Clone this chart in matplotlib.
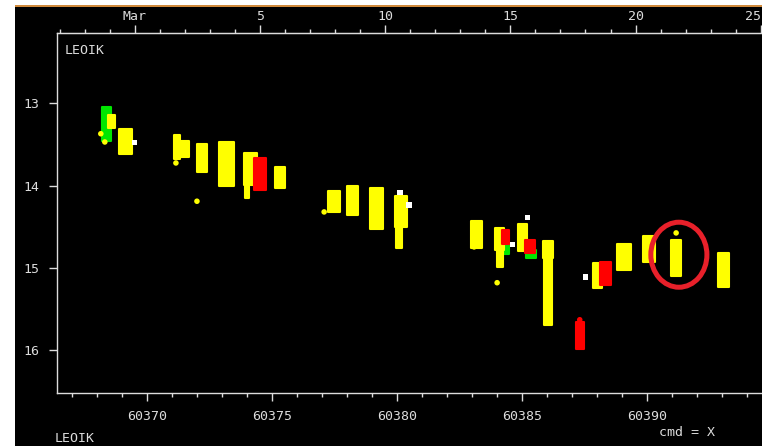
import matplotlib
matplotlib.use("Agg")
import matplotlib.pyplot as plt
from matplotlib.patches import Rectangle, Ellipse
from matplotlib.ticker import MultipleLocator

# nightly clusters: time span (MJD) and magnitude span
yellow_t0 = [60368.45, 60368.91, 60371.09, 60371.37, 60372.02, 60372.90, 60373.90, 60373.93,
             60375.13, 60377.26, 60377.99, 60378.92, 60379.92, 60379.96, 60382.96, 60383.92,
             60384.00, 60384.85, 60385.83, 60385.89, 60387.82, 60388.80, 60389.83, 60390.93,
             60392.84]
yellow_t1 = [60368.73, 60369.40, 60371.33, 60371.69, 60372.42, 60373.50, 60374.39, 60374.09,
             60375.53, 60377.72, 60378.43, 60379.43, 60380.41, 60380.19, 60383.41, 60384.29,
             60384.24, 60385.18, 60386.23, 60386.21, 60388.18, 60389.35, 60390.31, 60391.33,
             60393.28]
yellow_m0 = [13.14, 13.31, 13.39, 13.46, 13.49, 13.47, 13.61, 13.99, 13.77, 14.07, 14.01, 14.03,
             14.13, 14.50, 14.43, 14.51, 14.78, 14.47, 14.67, 14.88, 14.94, 14.71, 14.61, 14.66,
             14.82]
yellow_m1 = [13.30, 13.62, 13.68, 13.65, 13.83, 14.01, 13.99, 14.15, 14.03, 14.32, 14.36, 14.53,
             14.50, 14.76, 14.76, 14.78, 14.99, 14.80, 14.88, 15.69, 15.24, 15.02, 14.93, 15.10,
             15.23]

red_t0 = [60374.30, 60384.18, 60385.11, 60387.15, 60388.11]
red_t1 = [60374.77, 60384.47, 60385.51, 60387.48, 60388.55]
red_m0 = [13.67, 14.54, 14.66, 15.66, 14.93]
red_m1 = [14.05, 14.71, 14.82, 15.99, 15.21]

green_t0 = [60368.23, 60374.22, 60384.22, 60385.15]
green_t1 = [60368.56, 60374.36, 60384.49, 60385.54]
green_m0 = [13.05, 13.88, 14.70, 14.78]
green_m1 = [13.46, 13.98, 14.83, 14.88]

# single stray points
yellow_pt_t = [60368.17, 60368.33, 60371.17, 60372.01, 60377.09, 60383.08, 60384.00, 60391.15]
yellow_pt_m = [13.37, 13.47, 13.725, 14.19, 14.32, 14.745, 15.18, 14.575]
white_pt_t = [60369.53, 60380.12, 60380.48, 60384.61, 60385.22, 60387.52]
white_pt_m = [13.48, 14.08, 14.235, 14.72, 14.385, 15.11]
red_pt_t = [60387.30]
red_pt_m = [15.63]

# highlighted night
circle_t, circle_m = 60391.26, 14.84

top_ticks = [0, 5, 10, 15, 20, 25]
top_labels = ["Mar", "5", "10", "15", "20", "25"]
top_origin = 60369.53

fg = "#dcdcdc"
fnt = dict(family="DejaVu Sans Mono", size=9.5, color=fg)

fig = plt.figure(figsize=(7.62, 4.46), dpi=100, facecolor="white")
fig.patches.append(Rectangle((15 / 762, 0), 1, 1 - 7 / 446, transform=fig.transFigure,
                             facecolor="black", edgecolor="none", zorder=-10))
fig.patches.append(Rectangle((15 / 762, 1 - 7 / 446), 1, 2 / 446, transform=fig.transFigure,
                             facecolor="#d08a3c", edgecolor="none", zorder=-10))

ax = fig.add_axes([57 / 762, 53 / 446, 705 / 762, 360 / 446])
ax.set_facecolor("black")
ax.set_xlim(60366.42, 60394.58)
ax.set_ylim(16.52, 12.146)


def blobs(t0, t1, m0, m1, color, z):
    mids = [(a + b) / 2 for a, b in zip(t0, t1)]
    widths = [b - a for a, b in zip(t0, t1)]
    heights = [b - a for a, b in zip(m0, m1)]
    bars = ax.bar(mids, heights, width=widths, bottom=m0, color=color, edgecolor=color,
                  linewidth=1.5, zorder=z)
    for b in bars:
        b.set_joinstyle("round")


blobs(green_t0, green_t1, green_m0, green_m1, "#00e600", 2)
blobs(yellow_t0, yellow_t1, yellow_m0, yellow_m1, "#ffff00", 3)
blobs(red_t0, red_t1, red_m0, red_m1, "#ff0000", 4)
ax.scatter(yellow_pt_t, yellow_pt_m, s=16, color="#ffff00", edgecolors="none", zorder=3)
ax.scatter(red_pt_t, red_pt_m, s=16, color="#ff0000", edgecolors="none", zorder=4)
ax.scatter(white_pt_t, white_pt_m, s=14, color="white", edgecolors="none", marker="s", zorder=5)

ax.add_patch(Ellipse((circle_t, circle_m), 2.24, 0.79, facecolor="none",
                     edgecolor="#e8202a", linewidth=3.6, zorder=6))

for s in ["left", "bottom", "top"]:
    ax.spines[s].set_color(fg)
    ax.spines[s].set_linewidth(1.0)
ax.spines["right"].set_visible(False)

ax.xaxis.set_major_locator(MultipleLocator(5))
ax.xaxis.set_minor_locator(MultipleLocator(1))
ax.set_yticks([13, 14, 15, 16])
ax.tick_params(axis="both", which="both", colors=fg, direction="out", width=1.0)
ax.tick_params(axis="x", which="major", length=6, pad=6)
ax.tick_params(axis="x", which="minor", length=3)
ax.tick_params(axis="y", which="major", length=5.5, pad=7)
ax.xaxis.get_major_formatter().set_useOffset(False)
for lab in ax.get_xticklabels() + ax.get_yticklabels():
    lab.set_fontfamily("DejaVu Sans Mono")
    lab.set_fontsize(9.5)
    lab.set_color(fg)

top = ax.secondary_xaxis("top", functions=(lambda t: t - top_origin, lambda d: d + top_origin))
top.set_xticks(top_ticks)
top.set_xticklabels(top_labels)
top.xaxis.set_minor_locator(MultipleLocator(1))
top.tick_params(axis="x", which="both", colors=fg, direction="out", width=1.0)
top.tick_params(axis="x", which="major", length=6, pad=1)
top.tick_params(axis="x", which="minor", length=3)
top.spines["top"].set_color(fg)
top_labs = top.get_xticklabels()
for lab in top_labs:
    lab.set_fontfamily("DejaVu Sans Mono")
    lab.set_fontsize(9.5)
    lab.set_color(fg)
top_labs[-1].set_horizontalalignment("right")

fig.text(65 / 762, 1 - 51 / 446, "LEOIK", va="center", ha="left", **fnt)
fig.text(55 / 762, 1 - 438 / 446, "LEOIK", va="center", ha="left", **fnt)
fig.text(659 / 762, 1 - 433 / 446, "cmd = X", va="center", ha="left", **fnt)

fig.savefig("out.png", dpi=100, facecolor=fig.get_facecolor())
